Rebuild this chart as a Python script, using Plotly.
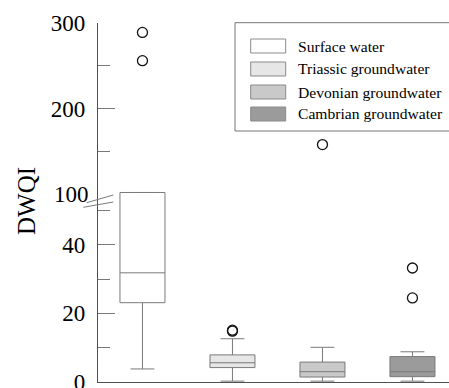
import plotly.graph_objects as go

# Drinking-water quality index (DWQI) by water source
categories = ["Surface water", "Triassic groundwater", "Devonian groundwater", "Cambrian groundwater"]
q1 = [23.1, 4.2, 1.45, 1.55]
median = [31.8, 5.6, 3.0, 3.0]
q3 = [102.0, 7.9, 5.8, 7.4]
lower_fence = [3.8, 0.25, 0.25, 0.25]
upper_fence = [102.0, 12.6, 10.1, 8.8]
outliers = [[289.0, 256.0], [14.8, 15.1], [158.0], [33.2, 24.5]]
fill_colors = ["#ffffff", "#e6e6e6", "#c9c9c9", "#9b9b9b"]

# broken axis: lower panel 0-53, upper panel 94-300
low_range = [0, 53.3]
high_range = [94.4, 300]
low_ticks = [0, 20, 40]
low_minor = [10, 30, 50]
high_ticks = [200, 300]
high_minor = [150, 250]

W, H = 449, 388
ML, MR, MT, MB = 98, 0, 23, 6
PW, PH = W - ML - MR, H - MT - MB
split = (H - MB - 199) / PH

SERIF = "Liberation Serif"
LINE = "#7a7a7a"
AXIS = "#505050"


def px(x):
    return (x - ML) / PW


def py(y):
    return (H - MB - y) / PH


fig = go.Figure()

for i, name in enumerate(categories):
    for yax, rng in (("y", low_range), ("y2", high_range)):
        # draw the box in a panel only if it reaches into that panel's range
        if lower_fence[i] <= rng[1] and upper_fence[i] >= rng[0]:
            fig.add_trace(go.Box(
                x=[i], q1=[q1[i]], median=[median[i]], q3=[q3[i]],
                lowerfence=[lower_fence[i]], upperfence=[upper_fence[i]],
                name=name, yaxis=yax, xaxis="x",
                width=0.5, whiskerwidth=0.53,
                fillcolor=fill_colors[i],
                line=dict(color=LINE, width=1),
                boxpoints=False, showlegend=False, hoverinfo="skip",
            ))
    lo = [v for v in outliers[i] if v <= low_range[1]]
    hi = [v for v in outliers[i] if v > low_range[1]]
    for vals, yax in ((lo, "y"), (hi, "y2")):
        if vals:
            fig.add_trace(go.Scatter(
                x=[i] * len(vals), y=vals, mode="markers", yaxis=yax, xaxis="x",
                marker=dict(symbol="circle-open", size=10, color="#111111",
                            line=dict(width=1.3, color="#111111")),
                showlegend=False, hoverinfo="skip",
            ))

tickfont = dict(family=SERIF, size=23, color="#000000")

fig.update_layout(
    width=W, height=H,
    margin=dict(l=ML, r=MR, t=MT, b=MB, pad=0, autoexpand=False),
    paper_bgcolor="#ffffff", plot_bgcolor="#ffffff",
    showlegend=False,
    font=dict(family=SERIF),
    xaxis=dict(
        range=[-0.494, 3.406], showgrid=False, zeroline=False,
        showticklabels=False, ticks="", showline=True,
        linecolor=AXIS, linewidth=1.3, anchor="y", automargin=False,
    ),
    yaxis=dict(
        domain=[0, split], range=low_range, anchor="x", automargin=False,
        showgrid=False, zeroline=False, showline=True,
        linecolor=AXIS, linewidth=1.3,
        tickmode="array", tickvals=low_ticks, ticks="inside",
        ticklen=17, tickwidth=1, tickcolor=LINE, tickfont=tickfont,
        ticklabelstandoff=7, ticklabeloverflow="allow",
        minor=dict(tickmode="array", tickvals=low_minor, ticks="inside",
                   ticklen=12, tickwidth=1, tickcolor=LINE),
    ),
    yaxis2=dict(
        domain=[split, 1], range=high_range, anchor="x", automargin=False,
        showgrid=False, zeroline=False, showline=True,
        linecolor=AXIS, linewidth=1.3,
        tickmode="array", tickvals=high_ticks, ticks="inside",
        ticklen=17, tickwidth=1, tickcolor=LINE, tickfont=tickfont,
        ticklabelstandoff=7, ticklabeloverflow="allow",
        minor=dict(tickmode="array", tickvals=high_minor, ticks="inside",
                   ticklen=12, tickwidth=1, tickcolor=LINE),
    ),
)

# label for the lower edge of the upper panel
fig.add_annotation(
    x=0, xref="paper", y=100, yref="y2", text="100", showarrow=False,
    xanchor="right", yanchor="middle", xshift=-7, font=tickfont,
)

# axis-break marks
for (x0, y0, x1, y1) in ((86.7, 202.7, 113.3, 195.0), (83.3, 207.3, 113.3, 202.0)):
    fig.add_shape(type="line", xref="paper", yref="paper",
                  x0=px(x0), y0=py(y0), x1=px(x1), y1=py(y1),
                  line=dict(color=LINE, width=1))

# y-axis title
fig.add_annotation(
    x=px(27), xref="paper", y=py(201), yref="paper", text="DWQI",
    showarrow=False, textangle=-90, xanchor="center", yanchor="middle",
    font=dict(family=SERIF, size=25, color="#000000"),
)

# legend frame and entries
fig.add_shape(type="rect", xref="paper", yref="paper",
              x0=px(235), y0=py(131), x1=px(460), y1=py(22.7),
              line=dict(color="#777777", width=1), fillcolor="#ffffff", layer="above")
row_centres = [46, 69, 92, 114]
for name, fc, yc in zip(categories, fill_colors, row_centres):
    fig.add_shape(type="rect", xref="paper", yref="paper",
                  x0=px(250.7), x1=px(285.7), y0=py(yc + 7), y1=py(yc - 7),
                  line=dict(color="#8a8a8a", width=1), fillcolor=fc, layer="above")
    fig.add_annotation(
        x=px(296), xref="paper", y=py(yc), yref="paper", text=name,
        showarrow=False, xanchor="left", yanchor="middle",
        font=dict(family=SERIF, size=15.6, color="#000000"),
    )

fig.write_html("out.html")
